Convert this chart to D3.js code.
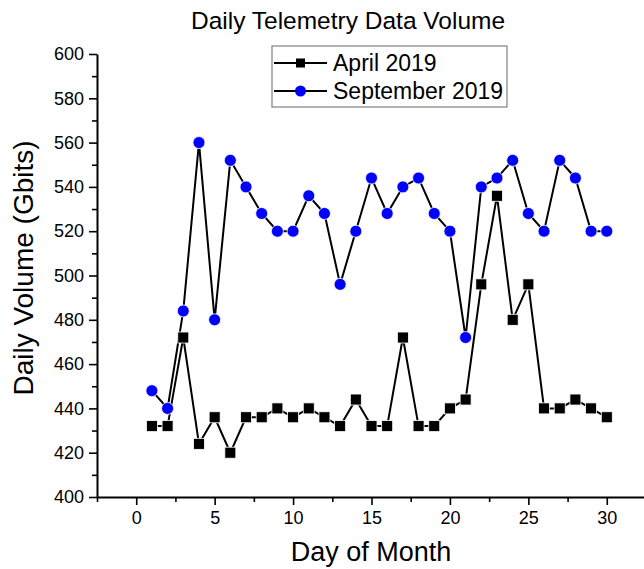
<!DOCTYPE html>
<html>
<head>
<meta charset="utf-8">
<script src="https://cdn.jsdelivr.net/npm/d3@7"></script>
<style>
  body { margin: 0; background: #fff; }
  svg { display: block; font-family: "Liberation Sans", Arial, sans-serif; }
</style>
</head>
<body>
<svg width="644" height="569"></svg>
<script>
// days of the month
var days = d3.range(1, 31);

// April 2019 volume (Gbits)
var april = [432, 432, 472, 424, 436, 420, 436, 436, 440, 436,
             440, 436, 432, 444, 432, 432, 472, 432, 432, 440,
             444, 496, 536, 480, 496, 440, 440, 444, 440, 436];

// September 2019 volume (Gbits)
var september = [448, 440, 484, 560, 480, 552, 540, 528, 520, 520,
                 536, 528, 496, 520, 544, 528, 540, 544, 528, 520,
                 472, 540, 544, 552, 528, 520, 552, 544, 520, 520];

var xTicks = [0, 5, 10, 15, 20, 25, 30];
var yTicks = [400, 420, 440, 460, 480, 500, 520, 540, 560, 580, 600];

var margin = {top: 54, right: -2, bottom: 72, left: 97};
var width = 644 - margin.left - margin.right;
var height = 569 - margin.top - margin.bottom;

var svg = d3.select('svg');
var g = svg.append('g')
  .attr('transform', 'translate(' + margin.left + ',' + margin.top + ')');

var x = d3.scaleLinear().domain([-2.5, 32.5]).range([0, width]);
var y = d3.scaleLinear().domain([400, 600]).range([height, 0]);

// minor ticks
g.append('g')
  .attr('transform', 'translate(0,' + height + ')')
  .call(d3.axisBottom(x).tickValues(d3.range(-2.5, 33, 2.5).filter(function(d) { return d % 5 !== 0; }))
    .tickSize(5).tickFormat(''))
  .call(function(a) { a.select('.domain').remove(); a.selectAll('line').attr('stroke-width', 1.6); });
g.append('g')
  .call(d3.axisLeft(y).tickValues(d3.range(410, 600, 20)).tickSize(5).tickFormat(''))
  .call(function(a) { a.select('.domain').remove(); a.selectAll('line').attr('stroke-width', 1.6); });

// major axes
var xAxis = g.append('g')
  .attr('transform', 'translate(0,' + height + ')')
  .call(d3.axisBottom(x).tickValues(xTicks).tickSize(8).tickSizeOuter(0).tickPadding(6));
var yAxis = g.append('g')
  .call(d3.axisLeft(y).tickValues(yTicks).tickSize(8).tickSizeOuter(0).tickPadding(5));

[xAxis, yAxis].forEach(function(a) {
  a.select('.domain').attr('stroke-width', 2);
  a.selectAll('line').attr('stroke-width', 1.6);
  a.selectAll('text').attr('font-size', 18).attr('fill', '#000')
    .attr('font-family', '"Liberation Sans", Arial, sans-serif');
});

// lines
var line = d3.line()
  .x(function(d, i) { return x(days[i]); })
  .y(function(d) { return y(d); });

g.append('path').datum(april)
  .attr('d', line).attr('fill', 'none').attr('stroke', '#000').attr('stroke-width', 2);
g.append('path').datum(september)
  .attr('d', line).attr('fill', 'none').attr('stroke', '#000').attr('stroke-width', 2);

// markers
g.selectAll('.sq').data(april).enter().append('rect')
  .attr('class', 'sq')
  .attr('x', function(d, i) { return x(days[i]) - 5.5; })
  .attr('y', function(d) { return y(d) - 5.5; })
  .attr('width', 11).attr('height', 11)
  .attr('fill', '#000').attr('stroke', '#fff').attr('stroke-width', 0.8);

g.selectAll('.dot').data(september).enter().append('circle')
  .attr('class', 'dot')
  .attr('cx', function(d, i) { return x(days[i]); })
  .attr('cy', function(d) { return y(d); })
  .attr('r', 6)
  .attr('fill', '#0000ff').attr('stroke', '#fff').attr('stroke-width', 0.8);

// title and axis labels
svg.append('text').attr('x', 348).attr('y', 29).attr('text-anchor', 'middle')
  .attr('font-size', 24.5).text('Daily Telemetry Data Volume');
svg.append('text').attr('x', 371).attr('y', 561).attr('text-anchor', 'middle')
  .attr('font-size', 27).text('Day of Month');
svg.append('text').attr('transform', 'translate(33,268) rotate(-90)').attr('text-anchor', 'middle')
  .attr('font-size', 28).text('Daily Volume (Gbits)');

// legend
var legend = svg.append('g');
legend.append('rect').attr('x', 272).attr('y', 46).attr('width', 235).attr('height', 61)
  .attr('fill', '#fff').attr('stroke', '#808080').attr('stroke-width', 1.2);
var items = [{name: 'April 2019', shape: 'sq'}, {name: 'September 2019', shape: 'dot'}];
items.forEach(function(it, i) {
  var cy = 63 + i * 28;
  legend.append('line').attr('x1', 274).attr('x2', 327).attr('y1', cy).attr('y2', cy)
    .attr('stroke', '#000').attr('stroke-width', 2);
  if (it.shape === 'sq') {
    legend.append('rect').attr('x', 296).attr('y', cy - 4.5).attr('width', 9).attr('height', 9).attr('fill', '#000');
  } else {
    legend.append('circle').attr('cx', 300.5).attr('cy', cy).attr('r', 5.5).attr('fill', '#0000ff');
  }
  legend.append('text').attr('x', 333).attr('y', cy + 8).attr('font-size', 23).text(it.name);
});
</script>
</body>
</html>
